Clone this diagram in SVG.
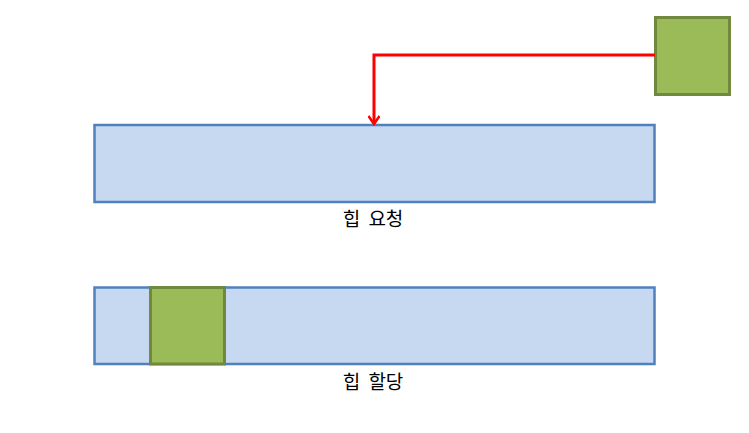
<svg xmlns="http://www.w3.org/2000/svg" width="749" height="433" viewBox="0 0 749 433">
<style>
.heap{fill:#C6D9F1;stroke:#4F81BD;stroke-width:2.5}
.blk{fill:#9BBB59;stroke:#71893F;stroke-width:3}
.lbl{font-family:"Noto Sans CJK KR","Noto Sans",sans-serif;font-size:19px;word-spacing:4px;fill:#000;text-anchor:middle}
.conn{fill:none;stroke:#FF0000;stroke-width:3}
</style>
<defs>
<marker id="arr" markerWidth="12" markerHeight="12" refX="9" refY="6" orient="auto" markerUnits="userSpaceOnUse" viewBox="0 0 12 12">
<path d="M1,0.5 L9,6 L1,11.5" fill="none" stroke="#FF0000" stroke-width="2.5"/>
</marker>
</defs>
<rect width="749" height="433" fill="#fff"/>
<g id="heap-request">
<rect class="heap" x="94.5" y="125" width="560" height="77"/>
<text class="lbl" x="373" y="226">힙 요청</text>
</g>
<g id="heap-alloc">
<rect class="heap" x="94.5" y="287.5" width="560" height="76.5"/>
<text class="lbl" x="373" y="389">힙 할당</text>
</g>
<g id="block-new">
<rect class="blk" x="655.5" y="17.5" width="74" height="77"/>
</g>
<g id="block-alloc">
<rect class="blk" x="150.5" y="287.5" width="74" height="76.5"/>
</g>
<g id="connectors">
<path class="conn" d="M655,55 H374 V124" marker-end="url(#arr)"/>
</g>
</svg>
